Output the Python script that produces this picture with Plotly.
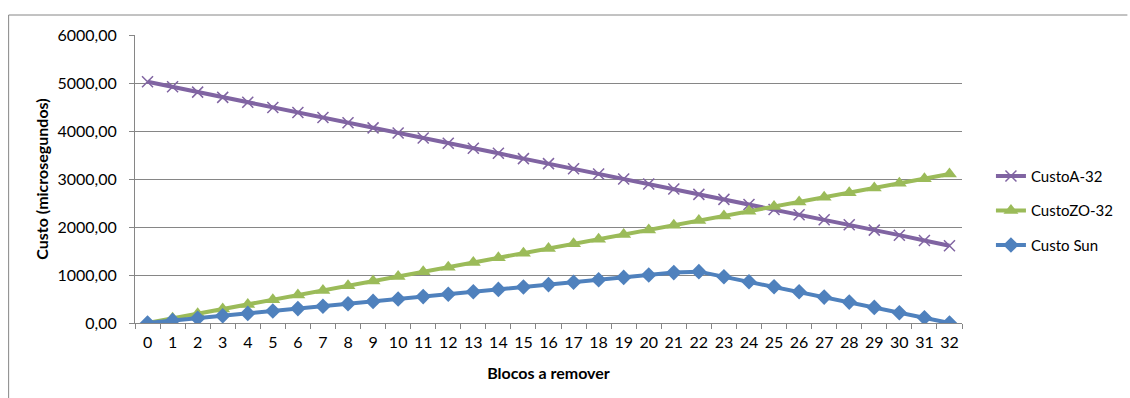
import plotly.graph_objects as go

blocos = [str(i) for i in range(33)]
custo_a32 = [5025, 4920, 4810, 4700, 4600, 4490, 4385, 4280, 4170, 4065, 3960,
             3855, 3745, 3640, 3535, 3425, 3320, 3215, 3105, 3000, 2895, 2790,
             2680, 2575, 2470, 2365, 2255, 2150, 2045, 1935, 1830, 1720, 1610]
custo_zo32 = [0, 97, 194, 291, 388, 485, 582, 679, 776, 873, 970,
              1067, 1164, 1261, 1358, 1455, 1552, 1649, 1746, 1843, 1940, 2037,
              2134, 2231, 2328, 2425, 2522, 2619, 2716, 2813, 2910, 3007, 3104]
custo_sun = [0, 50, 100, 150, 200, 250, 300, 350, 400, 450, 500,
             550, 600, 650, 700, 750, 800, 850, 900, 950, 1000, 1050,
             1070, 965, 860, 755, 650, 540, 435, 325, 215, 110, 0]

FONT = "Lato"
fig = go.Figure()
fig.add_trace(go.Scatter(
    x=blocos, y=custo_a32, name="CustoA-32", mode="lines+markers",
    line=dict(color="#8064A2", width=4),
    marker=dict(symbol="x-thin", size=11, color="#8064A2",
                line=dict(color="#8064A2", width=1.5)),
    legendgroup="a"))
fig.add_trace(go.Scatter(
    x=blocos, y=custo_zo32, name="CustoZO-32", mode="lines+markers",
    line=dict(color="#9BBB59", width=4),
    marker=dict(symbol="triangle-up", size=13, color="#9BBB59"),
    legendgroup="b"))
fig.add_trace(go.Scatter(
    x=blocos, y=custo_sun, name="Custo Sun", mode="lines+markers",
    line=dict(color="#4F81BD", width=4),
    marker=dict(symbol="diamond", size=12, color="#4F81BD"),
    legendgroup="c"))

fig.update_layout(
    width=1130, height=398,
    margin=dict(l=135, r=162, t=35, b=75),
    paper_bgcolor="white", plot_bgcolor="white",
    separators=",.",
    font=dict(family=FONT, size=16, color="#000000"),
    legend=dict(x=1.035, y=0.39, xanchor="left", yanchor="middle",
                font=dict(family=FONT, size=15), tracegroupgap=12,
                traceorder="grouped", bgcolor="rgba(0,0,0,0)"),
    xaxis=dict(type="category", range=[-0.5, 32.5], showgrid=False,
               showline=True, linecolor="#868686", linewidth=1,
               ticks="outside", tickson="boundaries", ticklen=5,
               tickcolor="#868686", ticklabelstandoff=5, tickangle=0,
               title=dict(text="<b>Blocos a remover</b>",
                          font=dict(family=FONT, size=16), standoff=17),
               tickfont=dict(family=FONT, size=16)),
    yaxis=dict(range=[0, 6000], dtick=1000, tickformat=".2f",
               showgrid=True, gridcolor="#868686", gridwidth=1,
               showline=True, linecolor="#868686", linewidth=1,
               ticks="outside", ticklen=5, tickcolor="#868686",
               ticklabelstandoff=9, zeroline=False,
               title=dict(text="<b>Custo (microsegundos)</b>",
                          font=dict(family=FONT, size=16), standoff=4),
               tickfont=dict(family=FONT, size=16)),
)

fig.add_shape(type="line", xref="paper", yref="paper", x0=-0.1528, x1=1.2,
              y0=1.0 + 20 / 288, y1=1.0 + 20 / 288,
              line=dict(color="#868686", width=1))
fig.add_shape(type="line", xref="paper", yref="paper", x0=-0.1528, x1=-0.1528,
              y0=1.0 + 20 / 288, y1=-0.4,
              line=dict(color="#868686", width=1))

fig.write_html("out.html")
